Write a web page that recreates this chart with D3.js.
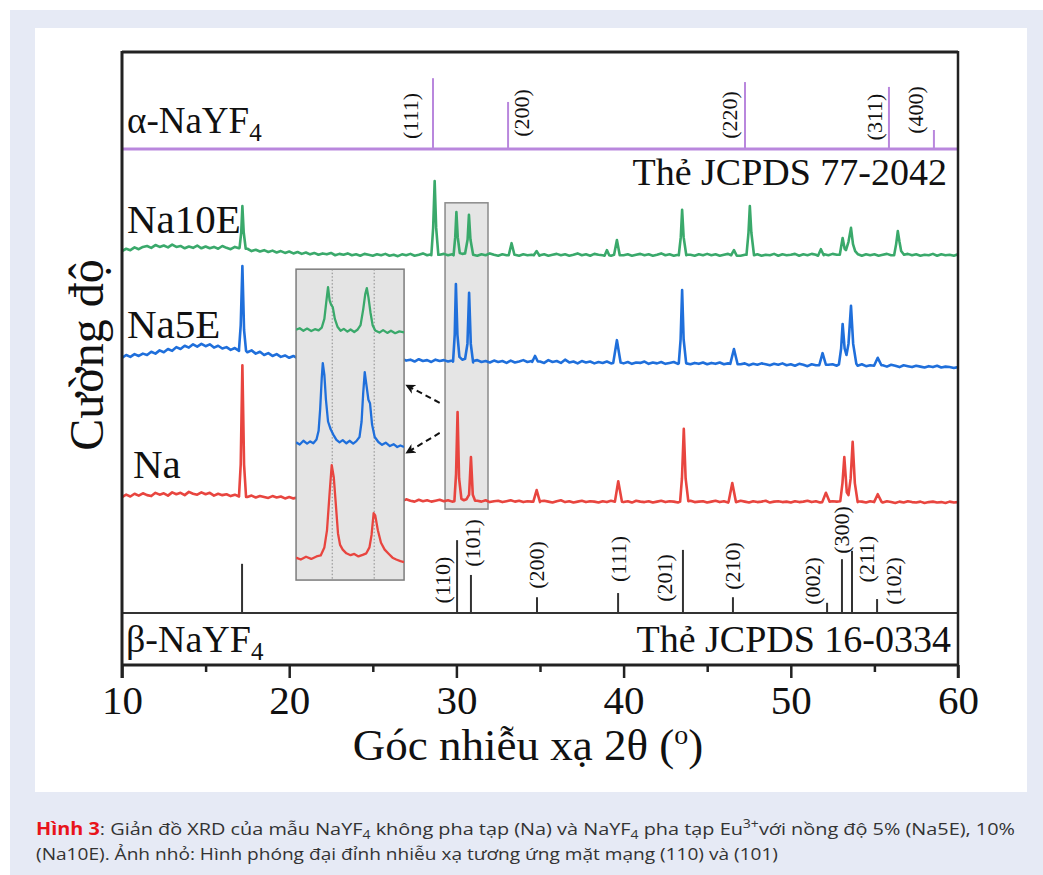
<!DOCTYPE html>
<html>
<head>
<meta charset="utf-8">
<script src="https://cdn.jsdelivr.net/npm/d3@7"></script>
<style>
  body { margin: 0; background: #fff; }
  svg { display: block; }
</style>
</head>
<body>
<div id="chart"></div>
<script>
// ---- data ----
const xTicks = [10, 20, 30, 40, 50, 60];
const xMinorTicks = [15, 25, 35, 45, 55];
const samples = ['Na', 'Na5E', 'Na10E'];
const sampleOffset = [20, 50, 72];   // vertical stacking (a.u.)

// baselines, 10..60 deg every 0.25 deg
const naBase = [
  5.0,5.5,5.1,5.7,5.3,5.8,5.4,5.2,5.9,5.5,5.8,5.3,6.0,5.6,5.9,5.4,6.1,5.7,5.5,6.0,
  5.6,5.9,5.3,5.7,5.4,5.6,5.2,5.5,5.1,5.4,5.0,5.3,4.9,5.2,5.0,4.8,5.2,4.9,5.1,4.7,
  5.0,4.7,4.9,4.6,5.0,4.7,4.5,4.9,4.6,4.8,4.4,4.7,4.5,4.8,4.4,4.6,4.3,4.7,4.5,4.3,
  4.6,4.2,4.5,4.3,4.6,4.2,4.4,4.1,4.5,4.2,4.0,4.4,4.1,4.3,4.0,4.2,4.4,4.1,4.3,4.0,
  4.2,4.0,4.3,4.1,3.9,4.2,4.0,4.3,3.9,4.1,4.2,3.9,4.1,4.3,4.0,4.2,3.9,4.1,4.0,4.2,
  3.9,4.2,4.0,3.8,4.1,4.3,3.9,4.1,3.8,4.0,4.2,3.9,4.1,4.0,3.8,4.1,3.9,4.2,4.0,4.1,
  3.9,4.1,3.8,4.2,4.0,3.9,4.1,3.8,4.0,4.2,3.9,4.1,4.0,3.8,4.1,3.9,4.2,3.9,4.0,4.1,
  3.8,4.0,4.2,3.9,4.1,3.8,4.0,3.9,4.2,4.0,3.8,4.1,3.9,4.0,4.2,3.8,4.0,4.1,3.9,4.0,
  3.8,4.1,3.9,4.0,4.2,3.9,4.1,3.8,4.0,3.9,4.1,4.0,3.8,4.0,3.9,4.1,3.9,4.0,3.8,4.1,
  3.9,4.0,3.8,4.1,3.9,3.7,4.0,3.8,4.1,3.9,3.8,4.0,3.7,3.9,4.0,3.8,3.9,3.7,4.0,3.8,
  3.9
];
const na5eBase = [
  5.0,5.6,5.2,5.8,5.4,5.9,5.6,6.3,5.9,6.6,6.2,6.9,6.5,7.3,6.9,7.6,7.2,7.9,7.4,8.0,
  7.5,7.9,7.2,7.6,7.0,7.3,6.7,7.1,6.5,6.8,6.2,6.6,5.9,6.3,5.6,6.0,5.4,5.8,5.2,5.5,
  5.0,5.4,4.9,5.3,4.8,5.1,4.7,5.2,4.8,5.0,4.6,5.1,4.7,4.9,4.5,4.9,4.6,4.8,4.5,4.9,
  4.6,4.8,4.4,4.9,4.5,4.7,4.3,4.8,4.4,4.6,4.2,4.7,4.3,4.5,4.1,4.6,4.3,4.5,4.2,4.4,
  4.1,4.5,4.2,4.4,4.0,4.5,4.1,4.3,4.0,4.4,4.1,4.3,3.9,4.4,4.0,4.2,4.5,4.1,4.3,4.0,
  4.2,3.9,4.5,4.1,4.3,3.9,4.6,4.0,4.2,3.8,4.3,4.0,4.2,3.8,4.1,3.9,4.2,3.8,4.0,4.1,
  3.8,4.1,3.7,4.0,3.9,4.2,3.7,4.0,3.8,4.1,3.7,3.9,4.1,3.7,4.0,3.8,3.6,3.9,3.7,4.0,
  3.6,3.9,3.7,4.0,3.6,3.8,3.5,3.9,3.6,3.8,3.4,3.7,3.5,3.8,3.6,3.4,3.7,3.5,3.8,3.4,
  3.6,3.3,3.7,3.5,3.2,3.6,3.4,3.7,3.3,3.5,3.6,3.3,3.6,3.4,3.2,3.5,3.3,3.6,3.2,3.4,
  3.5,3.2,3.4,3.1,3.5,3.3,3.0,3.4,3.2,3.0,3.3,3.1,2.9,3.2,3.0,3.3,2.9,3.1,3.0,2.8,
  3.0
];
const na10eBase = [
  6.0,6.5,6.2,6.8,6.4,6.9,7.1,6.7,7.3,6.9,7.2,6.8,7.4,6.9,7.1,6.6,7.0,6.7,7.2,6.6,
  7.0,6.6,6.9,6.5,7.1,6.7,6.4,6.9,6.6,6.2,6.5,6.0,6.3,5.9,6.2,5.8,6.1,5.7,6.0,5.6,
  5.9,5.5,5.8,5.4,5.7,5.3,5.6,5.2,5.5,5.3,5.6,5.1,5.4,5.2,5.5,5.1,5.3,5.0,5.4,5.2,
  5.0,5.3,5.1,5.4,5.0,5.2,4.9,5.3,5.1,5.4,5.0,5.2,5.5,5.1,5.3,5.0,5.2,5.4,5.1,5.3,
  5.0,5.3,5.1,5.4,5.2,5.0,5.3,5.1,5.5,5.2,5.0,5.3,5.1,5.4,5.2,5.0,5.3,5.1,5.2,5.4,
  5.1,5.3,5.0,5.2,5.4,5.1,5.3,5.0,5.2,5.5,5.1,5.3,5.0,5.4,5.2,5.1,5.3,5.0,5.2,5.4,
  5.1,5.3,5.0,5.2,5.4,5.1,5.3,5.0,5.2,5.5,5.1,5.3,5.0,5.2,5.4,5.1,5.2,5.0,5.3,5.1,
  5.4,5.1,5.3,5.0,5.2,5.4,5.1,5.3,5.0,5.2,5.4,5.1,5.3,5.0,5.2,5.1,5.4,5.0,5.3,5.1,
  5.2,5.4,5.0,5.3,5.1,5.4,5.2,5.0,5.3,5.1,5.4,5.2,5.0,5.3,5.1,5.2,5.4,5.0,5.3,5.1,
  5.3,5.0,5.2,5.4,5.1,5.3,5.0,5.2,5.4,5.1,5.3,5.0,5.2,5.1,5.4,5.0,5.3,5.1,5.2,5.0,
  5.3
];

// peaks: groups of [2theta, intensity]
const naPeaks = [
  [[17.0,5.3],[17.1,12],[17.2,33.4],[17.3,12],[17.42,5.0]],
  [[29.88,4.1],[29.98,10],[30.07,23.3],[30.16,9],[30.3,4.6],[30.45,4.3],[30.6,4.5],[30.76,5.5],[30.87,13.6],[30.98,5.5],[31.12,4.2]],
  [[34.6,4.0],[34.8,6.5],[35.0,4.1]],
  [[39.48,4.0],[39.68,8.4],[39.9,4.0]],
  [[43.38,4.0],[43.49,9],[43.6,19.7],[43.71,9],[43.87,4.1]],
  [[46.28,4.0],[46.5,8.0],[46.72,3.9]],
  [[51.88,3.9],[52.1,5.9],[52.32,4.0]],
  [[52.96,4.1],[53.09,8],[53.2,13.6],[53.35,6.0],[53.45,5.4],[53.58,9],[53.7,16.9],[53.83,8],[54.0,4.1]],
  [[54.98,3.9],[55.2,5.6],[55.42,4.0]]
];
const na5ePeaks = [
  [[17.0,6.9],[17.1,12],[17.2,24.8],[17.3,11],[17.42,6.5]],
  [[29.8,4.2],[29.9,10],[29.97,20.9],[30.06,10],[30.18,5.2],[30.35,4.6],[30.52,4.8],[30.66,8],[30.76,19.0],[30.86,8],[31.0,4.3]],
  [[34.53,4.1],[34.7,5.4],[34.87,4.2]],
  [[39.38,3.9],[39.6,8.8],[39.82,4.0]],
  [[43.3,3.8],[43.41,9],[43.5,19.6],[43.59,9],[43.74,3.9]],
  [[46.38,3.7],[46.6,6.9],[46.82,3.6]],
  [[51.7,3.4],[51.9,6.0],[52.1,3.5]],
  [[52.88,3.6],[53.01,7],[53.1,12.3],[53.22,7],[53.33,5.6],[53.45,8],[53.6,16.2],[53.73,8],[53.92,3.7]],
  [[54.98,3.3],[55.2,5.0],[55.42,3.4]]
];
const na10ePeaks = [
  [[17.03,6.7],[17.13,10],[17.2,15.7],[17.28,10],[17.4,6.5]],
  [[28.5,5.1],[28.61,11],[28.7,21.1],[28.79,11],[28.92,5.2]],
  [[29.83,5.1],[29.93,9],[30.0,14.4],[30.08,9],[30.2,5.6],[30.35,5.4],[30.52,5.5],[30.67,8.5],[30.75,13.8],[30.84,8.5],[31.0,5.2]],
  [[33.13,5.1],[33.3,7.7],[33.47,5.2]],
  [[34.63,5.1],[34.8,6.0],[34.97,5.0]],
  [[38.86,5.0],[39.0,6.2],[39.14,5.1]],
  [[39.43,5.2],[39.6,8.4],[39.77,5.1]],
  [[43.3,5.1],[43.42,9],[43.5,14.9],[43.59,9],[43.75,5.2]],
  [[46.43,5.1],[46.6,6.2],[46.77,5.0]],
  [[47.35,5.2],[47.47,10],[47.55,15.7],[47.64,10],[47.8,5.1]],
  [[51.63,5.0],[51.8,6.4],[51.97,5.1]],
  [[52.93,5.2],[53.1,8.8],[53.22,6.5],[53.3,6.2],[53.45,8],[53.6,11.0],[53.72,7.5],[53.85,6.0],[54.02,5.3]],
  [[56.18,5.1],[56.3,7.5],[56.4,10.3],[56.5,8.0],[56.6,6.0],[56.77,5.2]]
];

// magnified inset, 29.3..31.4 deg
const insetNa = [[29.31,7.2],[29.4,6.6],[29.5,7.5],[29.6,6.8],[29.7,7.6],[29.78,7.9],[29.85,10.5],[29.9,16],[29.95,28],[29.99,37.0],[30.03,33],[30.07,24],[30.11,15],[30.15,11.3],[30.2,9.8],[30.27,8.6],[30.35,8.0],[30.42,8.4],[30.5,7.6],[30.58,8.1],[30.65,8.6],[30.71,10.5],[30.75,14.5],[30.79,21.5],[30.82,20.8],[30.87,16],[30.93,12],[31.0,9.8],[31.08,8.4],[31.15,7.2],[31.22,6.6],[31.3,6.1],[31.37,5.8]];
const insetNa5E = [[29.31,44.3],[29.38,43.6],[29.45,44.8],[29.52,43.9],[29.58,44.6],[29.64,44.0],[29.7,45.2],[29.74,48],[29.77,55],[29.8,65],[29.82,69.8],[29.85,66],[29.88,58],[29.92,51],[29.97,48.5],[30.02,46.8],[30.08,45.1],[30.14,44.3],[30.2,45.0],[30.27,44.0],[30.33,44.8],[30.4,43.9],[30.46,44.7],[30.52,46],[30.56,51],[30.59,60],[30.62,66.9],[30.65,63],[30.69,58],[30.72,56.9],[30.76,50],[30.81,46.0],[30.88,44.4],[30.95,43.5],[31.02,44.2],[31.1,43.1],[31.17,43.7],[31.24,42.8],[31.3,43.3],[31.37,42.8]];
const insetNa10E = [[29.31,80.5],[29.38,81.0],[29.45,80.2],[29.52,80.9],[29.6,80.1],[29.67,80.7],[29.74,80.3],[29.8,81.2],[29.85,84],[29.89,90],[29.92,94.2],[29.95,90],[29.98,88.5],[30.01,87.8],[30.05,84],[30.1,81.5],[30.16,80.2],[30.22,80.8],[30.29,79.9],[30.35,80.6],[30.42,79.8],[30.48,80.5],[30.54,82],[30.59,87],[30.63,92],[30.66,93.9],[30.69,91],[30.73,86],[30.77,82],[30.82,80.3],[30.9,79.6],[30.97,80.4],[31.05,79.5],[31.12,80.2],[31.2,79.4],[31.28,80.0],[31.37,79.7]];
const insetMarks = [30.0, 30.8];

// reference cards
const alphaHkl = ['(111)', '(200)', '(220)', '(311)', '(400)'];
const alphaPos = [28.6, 33.09, 47.26, 55.87, 58.56];
const alphaInt = [73, 48.5, 69, 64, 19.6];
const betaHkl = ['', '(110)', '(101)', '(200)', '(111)', '(201)', '(210)', '(002)', '(300)', '(211)', '(102)'];
const betaPos = [17.18, 30.04, 30.87, 34.82, 39.67, 43.55, 46.54, 52.17, 53.06, 53.66, 55.16];
const betaInt = [10.6, 15.7, 8.2, 3.4, 4.3, 13.6, 3.4, 2.2, 11.6, 13.4, 3.0];

// ---- layout ----
const W = 1043, H = 875;
const colors = { Na: '#e8453f', Na5E: '#1f6fdb', Na10E: '#3aa96b' };
const purple = '#b987dd';
const serif = '"Liberation Serif", "Times New Roman", serif';

const svg = d3.select('#chart').append('svg').attr('width', W).attr('height', H);
svg.append('rect').attr('x', 10).attr('y', 10).attr('width', W - 10).attr('height', H - 10).attr('fill', '#e6eaf5');
svg.append('rect').attr('x', 35).attr('y', 28).attr('width', 992).attr('height', 764).attr('fill', '#fff');

const x = d3.scaleLinear().domain([10, 60]).range([122, 958]);
const y = d3.scaleLinear().domain([0, 100]).range([613, 149]);
const yA = d3.scaleLinear().domain([0, 100]).range([149, 52]);

const chart = svg.append('g').attr('font-family', serif).attr('fill', '#111');

svg.append('clipPath').attr('id', 'plotclip').append('rect')
  .attr('x', x(10)).attr('y', y(100)).attr('width', x(60) - x(10)).attr('height', y(0) - y(100));

// gray highlight box around (110)/(101)
chart.append('rect')
  .attr('x', x(29.32)).attr('y', y(88.4))
  .attr('width', x(31.89) - x(29.32)).attr('height', y(22.4) - y(88.4))
  .attr('fill', '#e5e5e5').attr('stroke', '#8a8a8a').attr('stroke-width', 1.5);

const buildSeries = function (base, peaks) {
  let pts = base.map((v, i) => [10 + i * 0.25, v]);
  pts = pts.filter(p => !peaks.some(g => p[0] > g[0][0] && p[0] < g[g.length - 1][0]));
  peaks.forEach(g => { pts = pts.concat(g); });
  return pts.sort((a, b) => a[0] - b[0]);
};

const series = [buildSeries(naBase, naPeaks), buildSeries(na5eBase, na5ePeaks), buildSeries(na10eBase, na10ePeaks)];

const traces = chart.append('g').attr('clip-path', 'url(#plotclip)');
series.forEach((s, i) => {
  const off = sampleOffset[i];
  traces.append('path')
    .datum(s)
    .attr('fill', 'none')
    .attr('stroke', colors[samples[i]])
    .attr('stroke-width', 2.6)
    .attr('stroke-linejoin', 'round')
    .attr('d', d3.line().x(d => x(d[0])).y(d => y(d[1] + off)));
});

// inset
const ix0 = x(20.41), ix1 = x(26.87), iy0 = y(74.1), iy1 = y(7.1);
const xi = d3.scaleLinear().domain([29.31, 31.37]).range([ix0, ix1]);
const yi = d3.scaleLinear().domain([0, 100]).range([iy1, iy0]);
const inset = chart.append('g').attr('class', 'inset');
inset.append('rect').attr('x', ix0).attr('y', iy0).attr('width', ix1 - ix0).attr('height', iy1 - iy0)
  .attr('fill', '#e4e4e4').attr('stroke', '#7c7c7c').attr('stroke-width', 1.5);
svg.append('clipPath').attr('id', 'insetclip').append('rect')
  .attr('x', ix0).attr('y', iy0).attr('width', ix1 - ix0).attr('height', iy1 - iy0);
inset.selectAll('line.mark').data(insetMarks).enter().append('line')
  .attr('class', 'mark')
  .attr('x1', d => xi(d)).attr('x2', d => xi(d)).attr('y1', iy0).attr('y2', iy1)
  .attr('stroke', '#8a8a8a').attr('stroke-width', 1).attr('stroke-dasharray', '1.5,2');
[insetNa, insetNa5E, insetNa10E].forEach((s, i) => {
  inset.append('path').datum(s)
    .attr('clip-path', 'url(#insetclip)')
    .attr('fill', 'none').attr('stroke', colors[samples[i]]).attr('stroke-width', 2.3)
    .attr('stroke-linejoin', 'round')
    .attr('d', d3.line().x(d => xi(d[0])).y(d => yi(d[1])));
});

// dashed arrows
const defs = svg.append('defs');
defs.append('marker').attr('id', 'ah').attr('viewBox', '0 0 10 10').attr('refX', 9).attr('refY', 5)
  .attr('markerWidth', 5).attr('markerHeight', 5).attr('orient', 'auto')
  .append('path').attr('d', 'M0,0 L10,5 L0,10 L3,5 Z').attr('fill', '#111');
[[[29.0, 45.3], [27.0, 49.1]], [[29.0, 38.8], [27.0, 34.5]]].forEach(a => {
  chart.append('line')
    .attr('x1', x(a[0][0])).attr('y1', y(a[0][1])).attr('x2', x(a[1][0])).attr('y2', y(a[1][1]))
    .attr('stroke', '#111').attr('stroke-width', 2).attr('stroke-dasharray', '6,4')
    .attr('marker-end', 'url(#ah)');
});

// alpha card
chart.append('line').attr('x1', x(10)).attr('x2', x(60)).attr('y1', yA(0)).attr('y2', yA(0))
  .attr('stroke', purple).attr('stroke-width', 3);
chart.selectAll('line.astick').data(alphaPos).enter().append('line').attr('class', 'astick')
  .attr('x1', d => x(d)).attr('x2', d => x(d)).attr('y1', yA(0)).attr('y2', (d, i) => yA(alphaInt[i]))
  .attr('stroke', purple).attr('stroke-width', 2);
const alphaDx = [-22, 13, -15, -14, -18];
const alphaCy = [116, 113, 115, 117, 110];
alphaHkl.forEach((t, i) => {
  chart.append('text')
    .attr('transform', `translate(${x(alphaPos[i]) + alphaDx[i]},${alphaCy[i]}) rotate(-90)`)
    .attr('text-anchor', 'middle').attr('dominant-baseline', 'central')
    .attr('font-size', 22).text(t);
});

// beta card
chart.append('line').attr('x1', x(10)).attr('x2', x(60)).attr('y1', y(0)).attr('y2', y(0))
  .attr('stroke', '#333').attr('stroke-width', 2);
chart.selectAll('line.bstick').data(betaPos).enter().append('line').attr('class', 'bstick')
  .attr('x1', d => x(d)).attr('x2', d => x(d)).attr('y1', y(0)).attr('y2', (d, i) => y(betaInt[i]))
  .attr('stroke', '#333').attr('stroke-width', 2);
const betaDx = [0, -15, 2, 0, 0, -18, 0, -15, 0, 15, 16];
const betaCy = [0, 580, 543, 565, 559, 578, 566, 581, 530, 559, 581];
betaHkl.forEach((t, i) => {
  if (!t) return;
  chart.append('text')
    .attr('transform', `translate(${x(betaPos[i]) + betaDx[i]},${betaCy[i]}) rotate(-90)`)
    .attr('text-anchor', 'middle').attr('dominant-baseline', 'central')
    .attr('font-size', 22).text(t);
});

// frame
const frame = chart.append('g').attr('stroke', '#222').attr('fill', 'none');
frame.append('line').attr('x1', x(10)).attr('x2', x(60)).attr('y1', 52).attr('y2', 52).attr('stroke-width', 3);
frame.append('line').attr('x1', x(10)).attr('x2', x(10)).attr('y1', 51).attr('y2', 678).attr('stroke-width', 3);
frame.append('line').attr('x1', x(60)).attr('x2', x(60)).attr('y1', 51).attr('y2', 678).attr('stroke-width', 2.5);
frame.append('line').attr('x1', x(10)).attr('x2', x(60)).attr('y1', 665).attr('y2', 665).attr('stroke-width', 3);

// x axis
const axis = chart.append('g').attr('transform', 'translate(0,665)')
  .call(d3.axisBottom(x).tickValues(xTicks).tickSize(13).tickPadding(7).tickFormat(d3.format('d')));
const minor = chart.append('g').attr('transform', 'translate(0,665)')
  .call(d3.axisBottom(x).tickValues(xMinorTicks).tickSize(7).tickFormat(''));
[axis, minor].forEach(a => {
  a.select('.domain').remove();
  a.selectAll('line').attr('stroke', '#222').attr('stroke-width', 2.5);
});
axis.selectAll('text').attr('font-family', serif).attr('font-size', 41).attr('fill', '#111');

// texts
const label = (t, px, py, size, anchor) => chart.append('text')
  .attr('x', px).attr('y', py).attr('font-size', size).attr('text-anchor', anchor || 'start').text(t);

label('Na10E', 127, 233, 41);
label('Na5E', 127, 338, 41);
label('Na', 133, 478, 41);
label('Thẻ JCPDS 77-2042', 947, 185, 38, 'end');
label('Thẻ JCPDS 16-0334', 951, 652, 38, 'end');

const alphaName = chart.append('text').attr('x', 127).attr('y', 133).attr('font-size', 37);
alphaName.append('tspan').text('α-NaYF');
alphaName.append('tspan').attr('font-size', 25).attr('dy', 8).text('4');
const betaName = chart.append('text').attr('x', 126).attr('y', 652).attr('font-size', 38);
betaName.append('tspan').text('β-NaYF');
betaName.append('tspan').attr('font-size', 25).attr('dy', 8).text('4');

chart.append('text')
  .attr('transform', 'translate(103,355) rotate(-90)')
  .attr('text-anchor', 'middle').attr('font-size', 48).text('Cường độ');

const xTitle = chart.append('text').attr('x', 528).attr('y', 760).attr('text-anchor', 'middle').attr('font-size', 45);
xTitle.append('tspan').text('Góc nhiễu xạ 2θ (');
xTitle.append('tspan').attr('font-size', 28).attr('dy', -16).text('o');
xTitle.append('tspan').attr('dy', 16).text(')');

// caption
const cap = svg.append('g').attr('font-family', '"Open Sans", "Noto Sans", sans-serif').attr('font-size', 17).attr('fill', '#333');
const l1 = cap.append('text').attr('x', 36).attr('y', 835).attr('textLength', 979).attr('lengthAdjust', 'spacingAndGlyphs');
l1.append('tspan').attr('fill', '#e8141b').attr('font-weight', 'bold').text('Hình 3');
l1.append('tspan').text(': Giản đồ XRD của mẫu NaYF');
l1.append('tspan').attr('font-size', 12).attr('dy', 4).text('4');
l1.append('tspan').attr('dy', -4).text(' không pha tạp (Na) và NaYF');
l1.append('tspan').attr('font-size', 12).attr('dy', 4).text('4');
l1.append('tspan').attr('dy', -4).text(' pha tạp Eu');
l1.append('tspan').attr('font-size', 12).attr('dy', -7).text('3+');
l1.append('tspan').attr('dy', 7).text('với nồng độ 5% (Na5E), 10%');
cap.append('text').attr('x', 36).attr('y', 860).attr('textLength', 742).attr('lengthAdjust', 'spacingAndGlyphs')
  .text('(Na10E). Ảnh nhỏ: Hình phóng đại đỉnh nhiễu xạ tương ứng mặt mạng (110) và (101)');
</script>
</body>
</html>
